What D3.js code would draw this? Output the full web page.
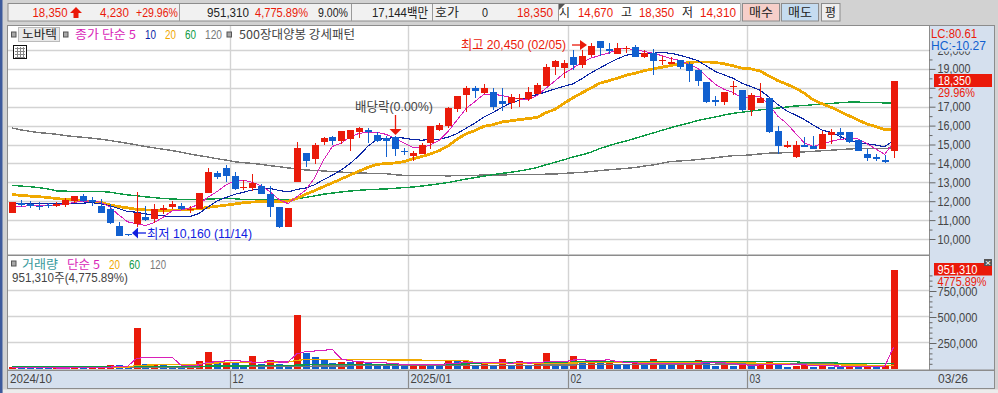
<!DOCTYPE html>
<html>
<head>
<meta charset="utf-8">
<script src="https://cdn.jsdelivr.net/npm/d3@7"></script>
<style>
html, body { margin: 0; padding: 0; background: #d2d2d2; overflow: hidden; }
svg { display: block; }
text { font-family: "Liberation Sans", "Noto Sans CJK KR", sans-serif; font-size: 13px; }
</style>
</head>
<body>
<svg id="chart" width="998" height="393"></svg>
<script>
// 거래일 (2024/10/28 ~ 2025/03/26)
const dates = [
  "10/28","10/29","10/30","10/31","11/01","11/04","11/05","11/06","11/07","11/08",
  "11/11","11/12","11/13","11/14","11/15","11/18","11/19","11/20","11/21","11/22",
  "11/25","11/26","11/27","11/28","11/29","12/02","12/03","12/04","12/05","12/06",
  "12/09","12/10","12/11","12/12","12/13","12/16","12/17","12/18","12/19","12/20",
  "12/23","12/24","12/26","12/27","12/30","01/02","01/03","01/06","01/07","01/08",
  "01/09","01/10","01/13","01/14","01/15","01/16","01/17","01/20","01/21","01/22",
  "01/23","01/24","01/31","02/03","02/04","02/05","02/06","02/07","02/10","02/11",
  "02/12","02/13","02/14","02/17","02/18","02/19","02/20","02/21","02/24","02/25",
  "02/26","02/27","02/28","03/04","03/05","03/06","03/07","03/10","03/11","03/12",
  "03/13","03/14","03/17","03/18","03/19","03/20","03/21","03/24","03/25","03/26"
];
const opens = [
  11390,11920,11840,11760,11780,11750,11800,11990,12280,12060,
  11750,11590,10690,10260,10790,11160,11060,11530,11690,11750,
  11570,11590,12450,13490,13760,13340,12700,12720,12810,12380,
  11690,10650,13040,14550,14240,15140,15400,15190,15290,15660,
  15770,15510,15350,15400,14660,14390,14500,15080,15770,15980,
  16880,17620,17990,17730,17780,17310,17200,17410,17410,17680,
  18100,19110,19050,19640,19210,19740,20450,20060,19790,20060,
  20170,19630,19850,19410,19280,19480,19260,18950,18310,17340,
  17250,18030,17890,16830,17200,17460,15720,14890,14340,14980,
  14920,14760,15510,15660,15660,15240,14500,14340,14180,14670
];
const highs = [
  11960,12050,12030,11960,11920,11980,12190,12280,12360,12240,
  12100,11850,10900,10270,12490,11750,11850,11820,12010,11900,
  11750,12440,13760,13580,13920,13550,13120,13440,12910,12810,
  11690,11640,15150,14550,15060,15400,15450,15720,15770,15930,
  15880,15660,15450,15450,14820,14660,15080,15980,16140,16990,
  17570,18100,18100,18200,17990,17990,17680,17680,18050,18260,
  19260,19480,19480,20010,20010,20360,20450,20380,20380,20220,
  20270,20010,20060,19690,19640,19480,19370,18950,18310,17570,
  17780,18360,17890,17730,18260,17460,15980,15190,15190,15400,
  15450,15720,15820,15880,15660,15240,14760,14500,14450,18350
];
const lows = [
  11390,11680,11620,11530,11640,11680,11680,11920,11960,11750,
  11360,10790,10180,10160,10620,10970,10860,11320,11570,11530,
  11390,11590,12420,13190,13020,12590,12590,12540,12380,11180,
  10600,10650,13040,13830,13990,14980,14980,15030,14660,15350,
  15080,15140,14340,14390,14450,14130,14500,14760,15720,15880,
  16720,16720,17460,17680,16830,16780,16880,16990,17310,17680,
  18100,18680,18520,18950,19050,19630,19690,19790,19790,19850,
  19630,19580,18680,19210,19260,19000,18310,18100,17200,17040,
  17090,17620,16780,16510,17200,15610,14500,14820,14290,14870,
  14760,14760,15030,15290,15080,14660,14130,14130,14020,14310
];
const closes = [
  11960,11820,11730,11730,11750,11850,12080,12280,12010,11940,
  11390,10850,10180,10200,11390,11000,11590,11640,11850,11590,
  11610,12440,13550,13300,13340,12650,12750,12960,12400,11690,
  10650,11640,14820,14130,14980,15350,15210,15720,15770,15880,
  15660,15190,15190,14760,14620,14550,14980,15980,16030,16940,
  17570,17990,17830,17990,16990,17150,17520,17480,17780,18150,
  19110,19420,19320,19210,19690,20220,20110,19950,20110,20130,
  19630,19850,19420,19480,19370,19110,18890,18360,17250,17270,
  17780,18100,16830,17620,17450,15660,14920,14960,14980,14870,
  14760,15560,15660,15510,15130,14660,14290,14240,14080,18350
];
const ma5 = [
  11740,11740,11750,11770,11800,11780,11830,11940,11990,12030,
  11940,11690,11270,10910,10800,10720,10870,11160,11490,11530,
  11660,11830,12210,12500,12850,13060,13120,13000,12820,12490,
  12090,11870,12240,12590,13240,14180,14900,15080,15410,15590,
  15650,15640,15540,15340,15080,14860,14820,14980,15230,15700,
  16300,16900,17270,17660,17670,17590,17500,17410,17370,17600,
  17990,18370,18760,19040,19350,19570,19710,19840,20020,20100,
  19990,19930,19830,19700,19550,19450,19250,19040,18600,18180,
  17910,17750,17450,17520,17560,17130,16500,16120,15590,15080,
  14900,15030,15170,15270,15320,15300,15050,14770,14480,15110
];
const ma10 = [
  11880,11880,11870,11860,11860,11860,11870,11890,11900,11920,
  11860,11760,11610,11450,11420,11330,11280,11220,11200,11170,
  11190,11350,11690,12000,12190,12360,12470,12600,12660,12670,
  12570,12490,12620,12700,12870,13140,13380,13660,14000,14420,
  14920,15270,15310,15370,15340,15260,15230,15260,15280,15390,
  15580,15860,16130,16450,16690,16950,17200,17340,17520,17640,
  17790,17940,18080,18210,18480,18780,19040,19300,19530,19730,
  19780,19820,19830,19860,19830,19720,19590,19440,19150,18860,
  18680,18500,18240,18060,17870,17520,17120,16780,16560,16320,
  16020,15760,15640,15430,15200,15100,15040,14970,14880,15220
];
const ma20 = [
  12350,12310,12270,12240,12200,12140,12090,12060,12010,11960,
  11930,11800,11710,11650,11570,11540,11520,11520,11530,11530,
  11560,11610,11670,11730,11790,11850,11920,11960,11970,11970,
  11970,12000,12150,12370,12560,12770,12970,13180,13390,13600,
  13790,13950,13990,14020,14090,14240,14360,14500,14680,14920,
  15290,15560,15740,15960,16040,16190,16250,16320,16370,16440,
  16690,16860,17180,17470,17730,17980,18240,18370,18510,18670,
  18770,18910,19000,19090,19180,19270,19340,19370,19370,19340,
  19270,19160,19040,19000,18890,18630,18380,18190,17980,17710,
  17360,17150,16970,16740,16520,16300,16090,15950,15790,15790
];
const ma60 = [
  12840,12800,12770,12720,12650,12550,12530,12520,12520,12520,
  12510,12480,12400,12330,12290,12230,12190,12140,12120,12090,
  12080,12090,12110,12130,12140,12130,12090,12080,12070,12060,
  12060,12070,12130,12200,12280,12370,12430,12490,12540,12580,
  12610,12630,12650,12680,12720,12750,12800,12860,12920,12990,
  13080,13170,13250,13330,13400,13470,13530,13600,13680,13790,
  13930,14060,14190,14340,14450,14590,14780,14930,15070,15190,
  15330,15470,15610,15750,15890,16020,16130,16270,16370,16460,
  16560,16650,16710,16770,16830,16880,16930,16980,17040,17060,
  17110,17150,17170,17210,17240,17240,17230,17220,17200,17190
];
const ma120 = [
  15880,15770,15700,15630,15590,15540,15470,15420,15380,15330,
  15280,15210,15140,15060,14980,14890,14820,14750,14680,14590,
  14500,14410,14340,14250,14180,14090,14040,14000,13950,13880,
  13830,13760,13710,13650,13630,13600,13570,13540,13510,13490,
  13480,13470,13460,13400,13370,13360,13350,13350,13350,13340,
  13350,13360,13370,13380,13390,13390,13400,13400,13410,13420,
  13430,13440,13470,13500,13520,13570,13620,13660,13700,13740,
  13780,13860,13920,14010,14100,14130,14160,14200,14250,14300,
  14360,14410,14420,14450,14500,14540,14550,14570,14590,14610,
  14640,14670,14700,14730,14760,14790,14800,14800,14800,14810
];
const volumes = [
  19000,13000,10000,9000,8500,9000,12000,13000,11000,12500,
  16000,38000,37000,30000,394000,47000,48000,38000,26000,25000,
  29000,77000,163000,54000,67000,58000,29000,125000,48000,87000,
  48000,29000,519000,154000,115000,87000,58000,70000,68000,69000,
  54000,51000,50000,32000,31000,51000,52000,38000,37000,77000,
  76000,77000,38000,64000,38000,96000,38000,77000,38000,48000,
  154000,64000,38000,125000,77000,86000,77000,80000,38000,37000,
  64000,48000,96000,38000,37000,48000,67000,87000,61000,29000,
  48000,29000,45000,29000,45000,67000,48000,19000,29000,38000,
  22000,38000,22000,21000,22000,21000,22000,21000,29000,951310
];
const volMa5 = [
  15000,15000,15000,14000,11900,9900,9700,10300,10700,11500,
  12900,18100,22900,26700,103000,109200,111200,111400,110600,36800,
  33200,39000,64000,69600,78000,83800,74200,66600,65400,69400,
  67400,67400,146200,167400,173000,180800,186600,96800,79600,70400,
  63800,62400,58400,51200,43600,43000,43200,40800,41800,51000,
  56000,61000,61000,66400,58600,62600,54800,62600,57400,59400,
  71000,76200,68400,85800,91600,78000,80600,89000,71600,63600,
  59200,53400,56600,56600,56600,53400,57200,55400,60000,58400,
  58400,50800,42400,36000,39200,43000,46800,41600,41600,40200,
  31200,29200,29800,28200,25000,24800,21600,21400,23000,208800
];
const volMa20 = [
  16000,16000,16000,16000,16000,16000,16000,16000,16000,16000,
  16000,16000,16000,16000,35000,36000,40000,40000,41000,42000,
  43000,46000,58000,58000,62000,62000,62000,64000,64000,66000,
  66000,66000,83000,92000,93000,93000,92000,91000,90000,90000,
  89000,88000,88000,87000,86000,86000,85000,85000,85000,85000,
  85000,83000,62000,58000,55000,54000,53000,53000,52000,52000,
  55000,55000,55000,58000,60000,61000,61000,62000,62000,62000,
  62000,62000,63000,63000,63000,63000,63000,64000,65000,64000,
  63000,60000,60000,58000,55000,50000,48000,47000,46000,45000,
  43000,42000,40000,40000,38000,38000,37000,37000,36000,36000
];
const volMa60 = [
  20000,20000,20000,20000,20000,20000,20000,20000,20000,20000,
  20000,21000,21000,21000,23000,23000,24000,24000,24000,25000,
  25000,26000,28000,28000,29000,29000,29000,31000,31000,32000,
  33000,33000,38000,40000,41000,42000,42000,43000,43000,44000,
  44000,44000,45000,45000,45000,45000,46000,46000,46000,47000,
  48000,48000,58000,59000,60000,61000,61000,62000,62000,63000,
  64000,64000,65000,66000,66000,67000,67000,67000,68000,68000,
  69000,70000,70000,70000,71000,71000,71000,71000,70000,70000,
  70000,70000,70000,70000,70000,70000,70000,70000,70000,61000,
  61000,61000,61000,55000,55000,55000,55000,55000,55000,55000
];
const volMa120 = [
  17000,17000,17000,17000,17000,17000,17000,17000,17000,17000,
  17000,17000,18000,18000,18000,18000,19000,19000,19000,19000,
  20000,20000,21000,21000,22000,22000,22000,23000,23000,24000,
  24000,24000,26000,27000,28000,28000,29000,29000,30000,30000,
  30000,31000,31000,31000,32000,32000,32000,33000,33000,33000,
  34000,34000,35000,35000,35000,36000,36000,36000,37000,37000,
  38000,38000,39000,39000,40000,40000,41000,41000,42000,42000,
  43000,43000,44000,44000,45000,45000,46000,46000,47000,47000,
  48000,48000,48000,49000,49000,49000,50000,50000,50000,50000,
  50000,51000,51000,51000,51000,51000,51000,51000,51000,51000
];
const priceTicks = [10000,11000,12000,13000,14000,15000,16000,17000,18000,19000,20000];
const priceMinor = [10500,11500,12500,13500,14500,15500,16500,17500,18500,19500];
const volumeTicks = [250000,500000,750000];
const volumeMinor = [50000,100000,150000,200000,300000,350000,400000,450000,550000,600000,650000,700000,800000,850000,900000];
const monthStarts = [["12/02","12"],["01/02","2025/01"],["02/03","02"],["03/04","03"]];

const RED = "#ea1a0a", BLUE = "#1160cf", INK = "#444444";
const MAGENTA = "#d91fb8", NAVY = "#0a25a5", ORANGE = "#f0a800", GREEN = "#0e9a45", GRAY = "#777777";
const PANEL = "#d5e0ee";
const KR = '"Noto Sans CJK KR", sans-serif';

const svg = d3.select("#chart");

// 글자 폭을 원본에 맞춰 늘리거나 줄임
function label(x, y, str, color, width, font) {
  const t = svg.append("text").attr("x", x).attr("y", y).attr("fill", color).text(str);
  if (width) t.attr("textLength", width).attr("lengthAdjust", "spacingAndGlyphs");
  if (font) t.style("font-family", font).style("font-size", "12px");
  return t;
}
function box(x, y, w, h, fill, stroke) {
  return svg.append("rect").attr("x", x).attr("y", y).attr("width", w).attr("height", h)
    .attr("fill", fill).attr("stroke", stroke || "none");
}

// 스케일
const x = d3.scalePoint().domain(dates).range([11.9, 893.5]);
const yPrice = d3.scaleLinear().domain([10000, 20000]).range([239, 50]);
const yVolume = d3.scaleLinear().domain([0, 1000000]).range([369, 265]);

// 상단 시세 줄
box(0, 0, 998, 393, "#d2d2d2");
box(0, 0, 2.5, 393, "#3d5a9c");
box(8, 3.5, 732, 17.5, "#f1f1f1", "#8c8c8c");
[179.5, 351.5, 432.5, 558.5].forEach(d => {
  svg.append("line").attr("x1", d).attr("x2", d).attr("y1", 4).attr("y2", 21).attr("stroke", "#9a9a9a");
});
box(559, 4, 181, 16.5, "#ffffff");
const rowY = 16.8;
label(32.5, rowY, "18,350", RED, 35);
svg.append("path").attr("d", "M76,7 L82,13 L78.5,13 L78.5,18 L73.5,18 L73.5,13 L70,13 Z").attr("fill", RED);
label(100, rowY, "4,230", RED, 29);
label(136, rowY, "+29.96%", RED, 42);
label(207, rowY, "951,310", "#222", 42);
label(255, rowY, "4,775.89%", RED, 53);
label(318, rowY, "9.00%", "#222", 30);
label(372, rowY, "17,144백만", "#222", 56);
label(435, rowY, "호가", "#222", 24, KR);
label(482, rowY, "0", "#222", 6);
label(517, rowY, "18,350", RED, 36);
svg.append("path").attr("d", "M559,4 L565,4 L559,10 Z").attr("fill", "#555");
label(559, rowY, "시", "#222", 11, KR);
label(578, rowY, "14,670", RED, 35);
label(621, rowY, "고", "#222", 11, KR);
label(639, rowY, "18,350", RED, 35);
label(682, rowY, "저", "#222", 11, KR);
label(700, rowY, "14,310", RED, 36);
box(742.5, 3.5, 37, 17.5, "#f6cfc9", "#8c8c8c");
label(749, rowY, "매수", "#222", 24, KR);
box(781.5, 3.5, 37, 17.5, "#c5dcf0", "#8c8c8c");
label(788, rowY, "매도", "#222", 24, KR);
box(821.5, 3.5, 18.5, 17.5, "#eeeeee", "#8c8c8c");
label(825, rowY, "평", "#222", 11, KR);

// 차트 틀
box(7.5, 25.5, 922, 229.5, "#ffffff", "#8c8c8c");
box(7.5, 255.5, 922, 114.5, "#ffffff", "#8c8c8c");
box(929.5, 25.5, 65, 344.5, PANEL, "#8c8c8c");
box(7.5, 370.5, 987, 18, PANEL, "#8c8c8c");
box(3, 389.5, 995, 4, "#ececec");

// 격자
const grid = svg.append("g").attr("stroke", "#d3d3d3").attr("stroke-width", 1.4);
grid.selectAll(".gp").data(priceTicks).join("line")
  .attr("x1", 8).attr("x2", 929).attr("y1", d => Math.round(yPrice(d)) + 0.5).attr("y2", d => Math.round(yPrice(d)) + 0.5);
grid.selectAll(".gv").data(volumeTicks).join("line")
  .attr("x1", 8).attr("x2", 929).attr("y1", d => Math.round(yVolume(d)) - 0.5).attr("y2", d => Math.round(yVolume(d)) - 0.5);

// 월 경계는 첫 거래일과 그 전날의 가운데
const monthX = d => x(d) - x.step() / 2;
monthStarts.forEach(([d]) => {
  const px = Math.round(monthX(d)) + 0.5;
  [[26, 254.5], [256, 369.5]].forEach(([a, b]) => {
    grid.append("line").attr("x1", px).attr("x2", px).attr("y1", a).attr("y2", b);
  });
  svg.append("line").attr("x1", px).attr("x2", px).attr("y1", 370).attr("y2", 388)
    .attr("stroke", "#8c8c8c").attr("stroke-width", 1.2);
});

// 이동평균선 (원본처럼 계단진 선)
function maLine(values, yScale, color, width) {
  const line = d3.line().x((d, i) => x(dates[i])).y(d => yScale(d));
  svg.append("path").datum(values).attr("d", line)
    .attr("fill", "none").attr("stroke", color).attr("stroke-width", width)
    .attr("stroke-linejoin", "round").attr("shape-rendering", "crispEdges");
}
maLine(ma120, yPrice, GRAY, 1.4);
maLine(ma60, yPrice, GREEN, 1.4);
maLine(ma20, yPrice, ORANGE, 2.8);
maLine(ma10, yPrice, NAVY, 1.1);
maLine(ma5, yPrice, MAGENTA, 1);

// 캔들
const candles = svg.append("g").attr("shape-rendering", "crispEdges");
dates.forEach((d, i) => {
  const color = closes[i] >= opens[i] ? RED : BLUE;
  const cx = Math.round(x(d));
  const top = Math.round(yPrice(Math.max(opens[i], closes[i])));
  const bottom = Math.round(yPrice(Math.min(opens[i], closes[i])));
  candles.append("rect").attr("x", cx).attr("width", 1)
    .attr("y", yPrice(highs[i])).attr("height", yPrice(lows[i]) - yPrice(highs[i])).attr("fill", color);
  candles.append("rect").attr("x", cx - 3).attr("width", 7)
    .attr("y", top).attr("height", Math.max(bottom - top, 1)).attr("fill", color);
});

// 거래량 막대: 전일보다 늘면 빨강, 줄면 파랑
svg.append("g").attr("shape-rendering", "crispEdges")
  .selectAll("rect").data(volumes).join("rect")
  .attr("x", (d, i) => Math.round(x(dates[i])) - 3)
  .attr("width", 7)
  .attr("y", d => yVolume(d))
  .attr("height", d => yVolume(0) - yVolume(d))
  .attr("fill", (d, i) => (i === 0 || d >= volumes[i - 1]) ? RED : BLUE);
maLine(volMa120, yVolume, GRAY, 1.2);
maLine(volMa60, yVolume, GREEN, 1.3);
maLine(volMa20, yVolume, ORANGE, 1.3);
maLine(volMa5, yVolume, MAGENTA, 1.1);

// 가격 축
const comma = d3.format(",");
function styleAxis(g) {
  g.select(".domain").remove();
  g.selectAll("line").attr("stroke", "#666");
  g.selectAll("text").attr("fill", INK).style("font-size", "12.5px");
}
svg.append("g").attr("transform", "translate(929.5,0)")
  .call(d3.axisRight(yPrice).tickValues(priceMinor).tickSize(3).tickFormat(""))
  .call(styleAxis);
svg.append("g").attr("transform", "translate(929.5,0)")
  .call(d3.axisRight(yPrice).tickValues(priceTicks).tickSize(6).tickPadding(2)
    .tickFormat(d => d === 18000 ? "" : comma(d)))
  .call(styleAxis)
  .call(g => g.selectAll("text").filter(d => d !== 18000)
    .attr("textLength", 33).attr("lengthAdjust", "spacingAndGlyphs"));
svg.append("g").attr("transform", "translate(929.5,0)")
  .call(d3.axisRight(yVolume).tickValues(volumeMinor).tickSize(3).tickFormat(""))
  .call(styleAxis);
svg.append("g").attr("transform", "translate(929.5,0)")
  .call(d3.axisRight(yVolume).tickValues(volumeTicks).tickSize(7).tickPadding(1).tickFormat(comma))
  .call(styleAxis)
  .call(g => g.selectAll("text").attr("textLength", 40).attr("lengthAdjust", "spacingAndGlyphs"));

// 축 위의 표시들
box(930, 26, 64, 25.5, PANEL);
label(931, 37.5, "LC:80.61", RED, 46);
label(931, 49.5, "HC:-10.27", BLUE, 55);
box(934, 74, 58, 13, RED);
label(938, 85, "18,350", "#fff", 33);
label(938, 97, "29.96%", RED, 37);
box(934, 263, 58, 12.5, RED);
label(937.5, 274, "951,310", "#fff", 40);
label(937.5, 286, "4775.89%", RED, 49);
box(984, 259, 8, 7, "#555");
label(985, 265.5, "×", "#fff", 6).style("font-size", "9px");

// 날짜 축
const dateY = 383;
label(10, dateY, "2024/10", INK, 42);
monthStarts.forEach(([d, t]) => {
  label(Math.round(monthX(d)) + 2.5, dateY, t, INK, t.length > 2 ? 41 : 11);
});
label(938, dateY, dates[dates.length - 1], INK, 30);

// 범례
function marker(mx, my) {
  box(mx, my, 4.5, 5, "#a8a8a8", "#555");
}
marker(11.5, 32);
box(18.5, 27.5, 41, 14, "#e9e9e9", "#bbbbbb");
label(22, 39, "노바텍", "#222", 35, KR);
marker(63.5, 32);
label(75, 39, "종가 단순 5", MAGENTA, 61, KR);
label(145, 39, "10", NAVY, 11);
label(165, 39, "20", ORANGE, 11);
label(185, 39, "60", GREEN, 11);
label(205, 39, "120", GRAY, 17);
marker(227, 32);
label(239, 39, "500장대양봉 강세패턴", INK, 116, KR);
box(13.5, 45.5, 13, 13, "#ffffff", "#111");
[48, 51, 54, 57].forEach(d => {
  svg.append("line").attr("x1", 15).attr("x2", 25).attr("y1", d + 0.5).attr("y2", d + 0.5).attr("stroke", "#888");
});
[17, 20, 23].forEach(d => {
  svg.append("line").attr("x1", d + 0.5).attr("x2", d + 0.5).attr("y1", 47).attr("y2", 57).attr("stroke", "#888");
});

marker(11.5, 261);
label(22, 269, "거래량", "#37999c", 36, KR);
label(67, 269, "단순 5", MAGENTA, 33, KR);
label(109, 269, "20", ORANGE, 11);
label(129, 269, "60", GREEN, 11);
label(150, 269, "120", GRAY, 16);
label(12, 282, "951,310주(4,775.89%)", INK, 116);

// 주석
label(461, 49, "최고 20,450 (02/05)", RED, 105);
svg.append("path").attr("d", "M572,45 L581,45").attr("stroke", RED).attr("stroke-width", 1.3);
svg.append("path").attr("d", "M580,40 L587,45 L580,50 Z").attr("fill", RED);
label(355, 111, "배당락(0.00%)", INK, 78);
const divX = Math.round(x("12/27")) + 0.5;
svg.append("path").attr("d", `M${divX},115 L${divX},130`).attr("stroke", RED).attr("stroke-width", 1.3);
svg.append("path").attr("d", `M${divX - 6},129 L${divX + 6},129 L${divX},135 Z`).attr("fill", RED);
label(147, 238, "최저 10,160 (11/14)", "#1020e0", 105);
svg.append("path").attr("d", "M138,233 L146,233").attr("stroke", "#1020e0").attr("stroke-width", 1.3);
svg.append("path").attr("d", "M132,233 L138,227.5 L138,238.5 Z").attr("fill", "#1020e0");
</script>
</body>
</html>
